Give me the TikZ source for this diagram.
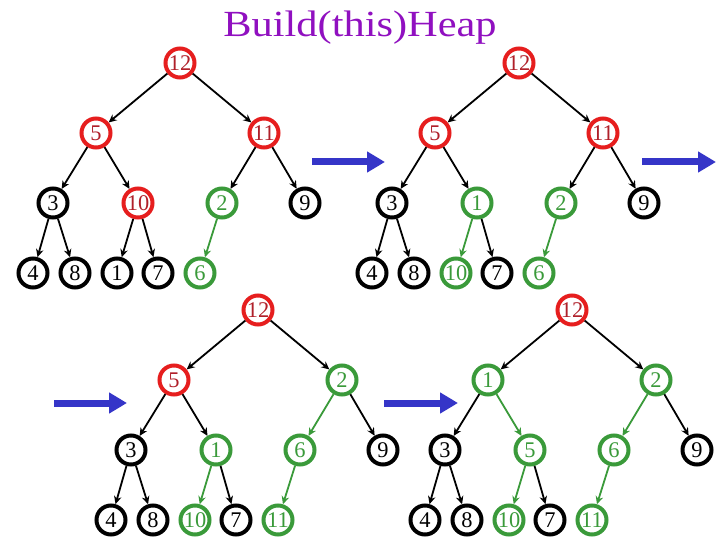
\documentclass[tikz,border=0pt]{standalone}
\usepackage{fontspec}
\usepackage{graphicx}
\setmainfont{Liberation Serif}
\usetikzlibrary{arrows.meta}
\definecolor{hred}{HTML}{E61E1E}
\definecolor{hredtxt}{HTML}{B0202A}
\definecolor{hgreen}{HTML}{3A9A3A}
\definecolor{hblue}{HTML}{3535C8}
\definecolor{hpurple}{HTML}{9010C0}
\tikzset{
 hnode/.style={circle, minimum size=29bp, inner sep=0pt, line width=4bp, fill=white, font=\fontsize{22.5}{22.5}\selectfont},
 rn/.style={hnode, draw=hred, text=hredtxt},
 gn/.style={hnode, draw=hgreen, text=hgreen},
 kn/.style={hnode, draw=black, text=black},
 kE/.style={draw=black, line width=1.8bp, -{Stealth[length=8bp,width=7.5bp]}},
 gE/.style={kE, draw=hgreen},
 bigarrow/.style={draw=hblue, line width=7bp, -{Triangle[length=18bp,width=20bp]}},
}
\newcommand\heaptree[4]{%
 \begin{scope}[shift={#2}]
  \foreach \v/\s/\px/\py [count=\i] in {#3} {\node[\s] (#1\i) at (\px,\py) {\v};}
  \foreach \p/\c/\e in {#4} {\draw[\e] (#1\p) -- (#1\c);}
 \end{scope}}
\begin{document}
\begin{tikzpicture}[x=1bp,y=-1bp]
\useasboundingbox (0,0) rectangle (720,540);
\fill[white] (0,0) rectangle (720,540);
\node[text=hpurple, anchor=base, inner sep=0pt, font=\fontsize{37}{37}\selectfont] (title) at (360,37) {\scalebox{1.15}[1]{Build(this)Heap}};
% tree A
\heaptree{a}{(0,0)}{12/rn/180/63, 5/rn/96/133, 11/rn/264/133, 3/kn/53/203, 10/rn/138/203, 2/gn/222/203, 9/kn/305/203, 4/kn/33/273, 8/kn/75/273, 1/kn/117/273, 7/kn/158/273, 6/gn/200/273}
 {1/2/kE, 1/3/kE, 2/4/kE, 2/5/kE, 3/6/kE, 3/7/kE, 4/8/kE, 4/9/kE, 5/10/kE, 5/11/kE, 6/12/gE}
% tree B
\heaptree{b}{(339,0)}{12/rn/180/63, 5/rn/96/133, 11/rn/264/133, 3/kn/53/203, 1/gn/138/203, 2/gn/222/203, 9/kn/305/203, 4/kn/33/273, 8/kn/75/273, 10/gn/117/273, 7/kn/158/273, 6/gn/200/273}
 {1/2/kE, 1/3/kE, 2/4/kE, 2/5/kE, 3/6/kE, 3/7/kE, 4/8/kE, 4/9/kE, 5/10/gE, 5/11/kE, 6/12/gE}
% tree C
\heaptree{c}{(78,247)}{12/rn/180/63, 5/rn/96/133, 2/gn/264/133, 3/kn/53/203, 1/gn/138/203, 6/gn/222/203, 9/kn/305/203, 4/kn/33/273, 8/kn/75/273, 10/gn/117/273, 7/kn/158/273, 11/gn/200/273}
 {1/2/kE, 1/3/kE, 2/4/kE, 2/5/kE, 3/6/gE, 3/7/kE, 4/8/kE, 4/9/kE, 5/10/gE, 5/11/kE, 6/12/gE}
% tree D
\heaptree{d}{(392,247)}{12/rn/180/63, 1/gn/96/133, 2/gn/264/133, 3/kn/53/203, 5/gn/138/203, 6/gn/222/203, 9/kn/305/203, 4/kn/33/273, 8/kn/75/273, 10/gn/117/273, 7/kn/158/273, 11/gn/200/273}
 {1/2/kE, 1/3/kE, 2/4/kE, 2/5/gE, 3/6/gE, 3/7/kE, 4/8/kE, 4/9/kE, 5/10/gE, 5/11/kE, 6/12/gE}
% blue arrows
\coordinate (s1) at (312,162); \coordinate (e1) at (385,162);
\coordinate (s2) at (642,162); \coordinate (e2) at (716,162);
\coordinate (s3) at (54,403);  \coordinate (e3) at (127,403);
\coordinate (s4) at (384,403); \coordinate (e4) at (458,403);
\draw[bigarrow] (s1) -- (e1);
\draw[bigarrow] (s2) -- (e2);
\draw[bigarrow] (s3) -- (e3);
\draw[bigarrow] (s4) -- (e4);
\end{tikzpicture}
\end{document}
